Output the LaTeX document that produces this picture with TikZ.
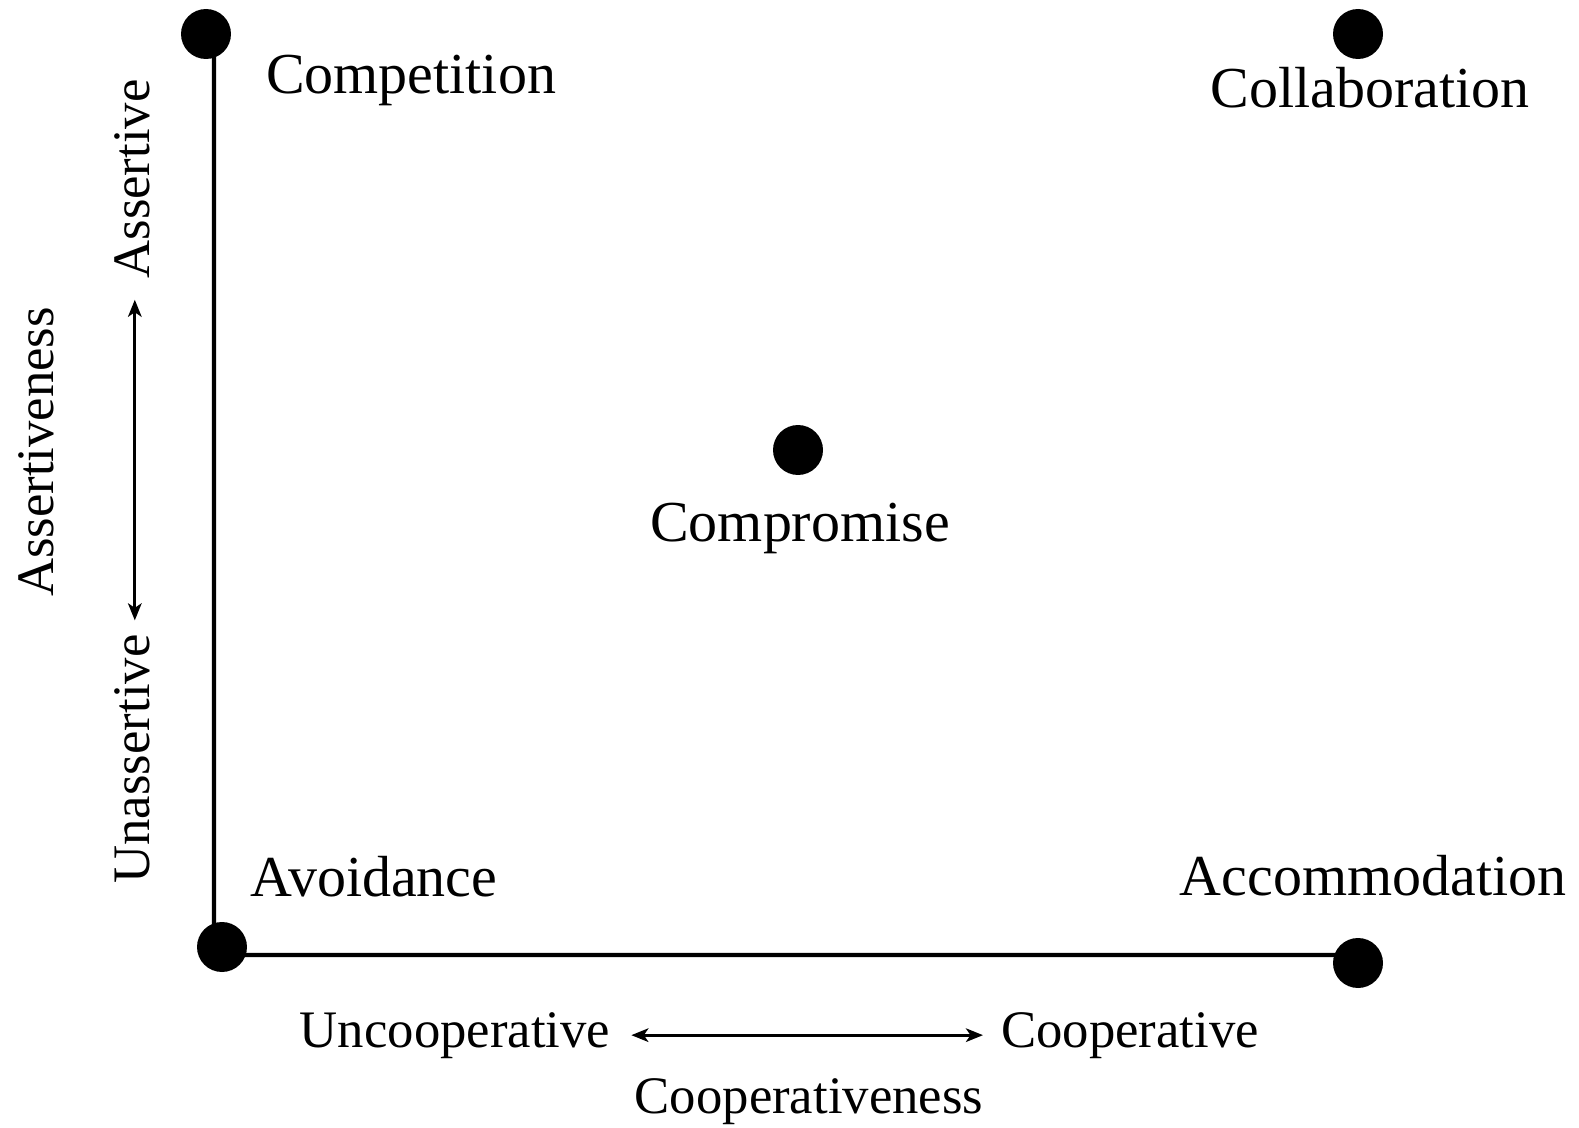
\documentclass[tikz,border=0pt]{standalone}
\usepackage{fontspec}
\setmainfont{Liberation Serif}
\usetikzlibrary{arrows.meta,positioning}

\begin{document}
\begin{tikzpicture}[x=0.02cm, y=-0.02cm,
  dot/.style={circle, fill=black, inner sep=0pt, minimum size=1cm},
  mode/.style={anchor=base, font=\fontsize{33}{40}\selectfont},
  axislabel/.style={anchor=base, font=\fontsize{30}{36}\selectfont},
  axisline/.style={line width=2.3pt},
  twoway/.style={{Stealth[length=0.34cm,width=0.27cm,inset=0.09cm]}-{Stealth[length=0.34cm,width=0.27cm,inset=0.09cm]}, line width=1.8pt}]
  \useasboundingbox (0,0) rectangle (1579,1128);

  % the five conflict modes
  \node[dot] (compete) at (206,34) {};
  \node[dot] (collab) at (1358,34) {};
  \node[dot] (compro) at (798,450) {};
  \node[dot] (avoid) at (222,947) {};
  \node[dot] (accom) at (1358,963) {};

  \node[mode] (competeLbl) at (411,94) {Competition};
  \node[mode] (collabLbl) at (1370,108) {Collaboration};
  \node[mode] (comproLbl) at (800,541) {Compromise};
  \node[mode] (avoidLbl) at (374,896) {Avoidance};
  \node[mode] (accomLbl) at (1373,895) {Accommodation};

  % axes
  \draw[axisline] ([xshift=0.16cm]compete.center) -- ([xshift=-0.16cm]avoid.center);
  \draw[axisline] ([yshift=-0.16cm]avoid.center) -- ([yshift=0.16cm]accom.center);

  % assertiveness scale
  \node[axislabel, rotate=90] (assertAxis) at (53,452) {Assertiveness};
  \node[axislabel, rotate=90] (assert) at (149,179) {Assertive};
  \node[axislabel, rotate=90] (unassert) at (149,759) {Unassertive};
  \draw[twoway, shorten <=0.16cm, shorten >=0.3cm] ([xshift=0.06cm]unassert.east) -- ([xshift=0.06cm]assert.west);

  % cooperativeness scale
  \node[axislabel] (uncoop) at (455,1047) {Uncooperative};
  \node[axislabel] (coop) at (1130,1047) {Cooperative};
  \node[axislabel] (coopAxis) at (809,1113) {Cooperativeness};
  \draw[twoway, shorten <=0.3cm, shorten >=0.24cm] (uncoop) -- (coop);
\end{tikzpicture}
\end{document}
